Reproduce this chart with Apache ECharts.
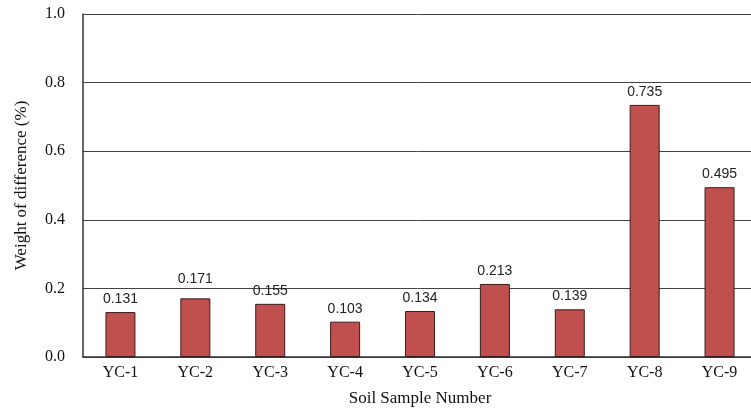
<!DOCTYPE html>
<html><head><meta charset="utf-8">
<script src="https://cdn.jsdelivr.net/npm/echarts@6/dist/echarts.min.js"></script>
<style>html,body{margin:0;padding:0;background:#fff}#c{width:751px;height:409px}</style>
</head><body><div id="c"></div>
<script>
var categories = ['YC-1','YC-2','YC-3','YC-4','YC-5','YC-6','YC-7','YC-8','YC-9'];
var values = [0.131,0.171,0.155,0.103,0.134,0.213,0.139,0.735,0.495];
var yTicks = [0,0.2,0.4,0.6,0.8,1.0];
var chart = echarts.init(document.getElementById('c'));
var font = '"Liberation Serif","Times New Roman",serif';
var sans = '"Liberation Sans",Arial,sans-serif';
chart.setOption({
  animation:false,
  grid:{left:83, top:14, width:674, height:343, outerBoundsMode:'none', containLabel:false},
  xAxis:{type:'category', data:categories,
    name:'Soil Sample Number', nameLocation:'middle', nameGap:33,
    nameTextStyle:{fontFamily:font, fontSize:17, color:'#111'},
    axisLine:{lineStyle:{color:'#333', width:1.5}},
    axisTick:{show:false},
    axisLabel:{fontFamily:font, fontSize:16, color:'#111', margin:8}},
  yAxis:{type:'value', min:0, max:1.0, interval:0.2,
    name:'Weight of difference (%)', nameLocation:'middle', nameGap:53,
    nameTextStyle:{fontFamily:font, fontSize:17, color:'#111'},
    axisLine:{show:true, lineStyle:{color:'#333', width:1.5}},
    axisTick:{show:false},
    axisLabel:{fontFamily:font, fontSize:16, color:'#111', margin:18,
      formatter:function(v){return v.toFixed(1);}},
    splitLine:{lineStyle:{color:'#444', width:1}}},
  series:[{type:'bar', data:values, barWidth:30,
    itemStyle:{color:'#C0504D', borderColor:'#3a1c1c', borderWidth:1},
    label:{show:true, position:'top', distance:6, fontFamily:sans, fontSize:14, color:'#222',
      formatter:function(p){return p.value.toFixed(3);}},
    labelLayout:function(p){ return p.dataIndex===1 ? {dy:-6} : {}; }}]
});
</script></body></html>
